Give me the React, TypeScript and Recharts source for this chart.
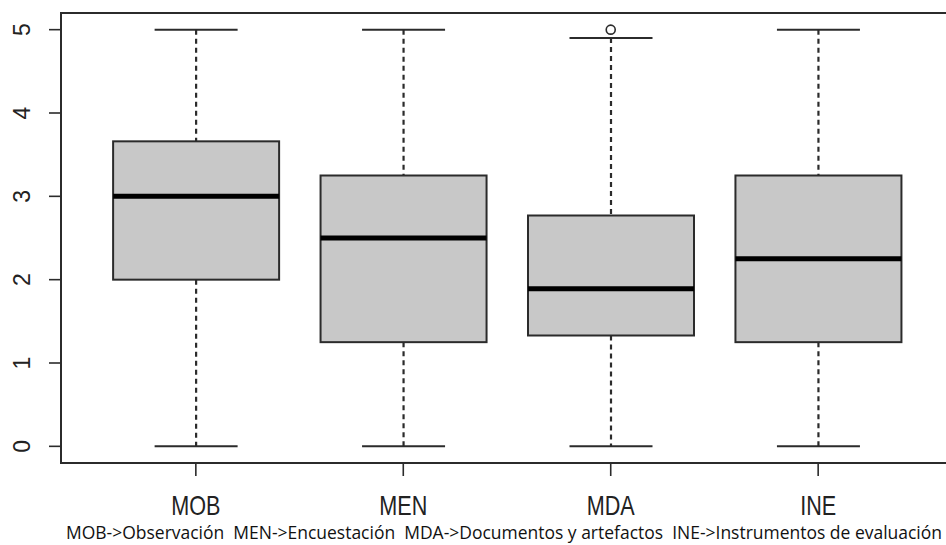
import React from 'react';
import { ComposedChart, Bar, Scatter, XAxis, YAxis, ReferenceArea } from 'recharts';

const groups = ['MOB', 'MEN', 'MDA', 'INE'];
const positions = [1, 2, 3, 4];
const mins = [0, 0, 0, 0];
const q1s = [2, 1.25, 1.33, 1.25];
const medians = [3, 2.5, 1.89, 2.25];
const q3s = [3.66, 3.25, 2.77, 3.25];
const maxs = [5, 5, 4.9, 5];
const outliers = [{ pos: 3, value: 5 }];
const yTicks = [0, 1, 2, 3, 4, 5];
const caption =
    'MOB->Observación  MEN->Encuestación  MDA->Documentos y artefactos  INE->Instrumentos de evaluación';

const data = groups.map((g, i) => ({
    name: g,
    pos: positions[i],
    min: mins[i],
    q1: q1s[i],
    median: medians[i],
    q3: q3s[i],
    max: maxs[i],
    range: [mins[i], maxs[i]],
}));

const INK = '#2b2b2b';

function BoxShape(props: any) {
    const { x, y, width, height, payload } = props;
    if (!payload) return null;
    const { min, q1, median, q3, max } = payload;
    const top = Math.min(y, y + height);
    const bottom = Math.max(y, y + height);
    const px = (v: number) => bottom - ((bottom - top) * (v - min)) / (max - min);
    const cx = x + width / 2;
    const cap = width / 4;
    return (
        <g>
            <line x1={cx} x2={cx} y1={px(max)} y2={px(q3)} stroke={INK} strokeWidth={2.2} strokeDasharray="5 4" />
            <line x1={cx} x2={cx} y1={px(q1)} y2={px(min)} stroke={INK} strokeWidth={2.2} strokeDasharray="5 4" />
            <line x1={cx - cap} x2={cx + cap} y1={px(max)} y2={px(max)} stroke={INK} strokeWidth={2} />
            <line x1={cx - cap} x2={cx + cap} y1={px(min)} y2={px(min)} stroke={INK} strokeWidth={2} />
            <rect x={x} y={px(q3)} width={width} height={px(q1) - px(q3)} fill="#c8c8c8" stroke={INK} strokeWidth={2} />
            <line x1={x} x2={x + width} y1={px(median)} y2={px(median)} stroke="#000" strokeWidth={5} />
        </g>
    );
}

function OutlierShape(props: any) {
    const { cx, cy } = props;
    return <circle cx={cx} cy={cy} r={4.5} fill="#fff" stroke={INK} strokeWidth={1.6} />;
}

function XTick(props: any) {
    const { x, payload } = props;
    const label = groups[positions.indexOf(payload.value)] ?? '';
    return (
        <text
            transform={`translate(${x},515) scale(0.8,1)`}
            textAnchor="middle"
            fontFamily="'Liberation Sans', Arial, sans-serif"
            fontSize={27}
            fill="#222"
        >
            {label}
        </text>
    );
}

function YTick(props: any) {
    const { y, payload } = props;
    return (
        <text
            x={30}
            y={y}
            transform={`rotate(-90, 30, ${y})`}
            textAnchor="middle"
            fontFamily="'Liberation Sans', Arial, sans-serif"
            fontSize={23}
            fill="#222"
        >
            {payload.value}
        </text>
    );
}

function Caption() {
    return (
        <text
            x={66}
            y={539}
            textLength={876}
            lengthAdjust="spacingAndGlyphs"
            fontFamily="'Open Sans', 'Noto Sans', sans-serif"
            fontSize={17.5}
            fill="#111"
            style={{ whiteSpace: 'pre' }}
        >
            {caption}
        </text>
    );
}

export default function App() {
    return (
        <div style={{ position: 'absolute', left: 0, top: 0, width: 946, height: 545, overflow: 'hidden', background: '#fff' }}>
            <ComposedChart width={953} height={545} data={data} margin={{ top: 13, right: 0, left: 0, bottom: 0 }}>
                <XAxis
                    type="number"
                    dataKey="pos"
                    domain={[0.35, 4.65]}
                    ticks={positions}
                    allowDataOverflow
                    axisLine={false}
                    tickLine={{ stroke: INK, strokeWidth: 1.6 }}
                    tickSize={13}
                    height={82}
                    interval={0}
                    tick={<XTick />}
                    label={{ content: () => <Caption /> }}
                />
                <YAxis
                    type="number"
                    domain={[-0.2, 5.2]}
                    ticks={yTicks}
                    allowDataOverflow
                    width={61}
                    axisLine={false}
                    tickLine={{ stroke: INK, strokeWidth: 1.6 }}
                    tickSize={12}
                    tick={<YTick />}
                />
                <ReferenceArea x1={0.35} x2={4.65} y1={-0.2} y2={5.2} fill="none" stroke={INK} strokeWidth={2} ifOverflow="visible" />
                <Bar dataKey="range" barSize={166} shape={<BoxShape />} isAnimationActive={false} />
                <Scatter data={outliers} dataKey="value" shape={<OutlierShape />} isAnimationActive={false} />
            </ComposedChart>
        </div>
    );
}
